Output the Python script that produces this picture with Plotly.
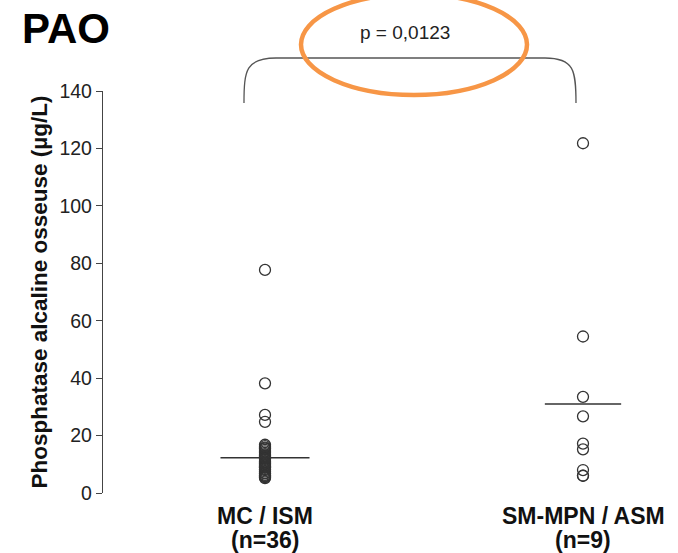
import plotly.graph_objects as go

# ---- data ----
groups = ["MC / ISM", "SM-MPN / ASM"]
group_n = ["(n=36)", "(n=9)"]
group_x = [1, 2]
values_mc_ism = [5.2, 5.5, 5.8, 6.0, 6.3, 6.8, 7.0, 7.5, 8.0, 8.3, 8.8, 9.0,
                 9.2, 9.5, 10.0, 10.3, 11.0, 11.5, 12.0, 12.2, 12.4, 12.8, 13.0,
                 13.5, 14.0, 14.5, 15.0, 15.5, 15.8, 16.3, 16.8, 24.8, 27.2,
                 38.2, 77.7, 10.6]
values_sm_mpn = [121.8, 54.5, 33.5, 26.7, 17.2, 15.2, 8.0, 6.0, 6.0]
medians = [12.3, 31.0]
median_halfwidth = [0.14, 0.12]
p_text = "p = 0,0123"
y_ticks = [0, 20, 40, 60, 80, 100, 120, 140]

W, H = 678, 553
L, R, T, B = 103, 0, 91, 60
pw, ph = W - L - R, H - T - B


def px(x):
    return (x - L) / pw


def py(y):
    return (H - B - y) / ph


# x range so that groups land at pixel 265 and 583
unit = (583 - 265) / 1.0
x0 = 1 - (265 - L) / unit
x1 = 2 + (W - R - 583) / unit

FONT = "Liberation Sans, Arial, sans-serif"

fig = go.Figure()
for gx, vals in zip(group_x, [values_mc_ism, values_sm_mpn]):
    fig.add_trace(go.Scatter(
        x=[gx] * len(vals), y=vals, mode="markers",
        marker=dict(symbol="circle-open", size=11, color="#333333",
                    line=dict(width=1.3, color="#333333")),
        cliponaxis=False, showlegend=False, hoverinfo="y"))

for gx, m, hw in zip(group_x, medians, median_halfwidth):
    fig.add_trace(go.Scatter(
        x=[gx - hw, gx + hw], y=[m, m], mode="lines",
        line=dict(color="#333333", width=1.5),
        showlegend=False, hoverinfo="skip"))

# bracket (pixel path converted to paper coordinates)
pts = [(244, 103), (244, 70), (246, 58), (276, 58), (545, 58),
       (574, 58), (576, 70), (576, 103)]
pp = [(px(a), py(b)) for a, b in pts]
path = ("M {:.4f},{:.4f} C {:.4f},{:.4f} {:.4f},{:.4f} {:.4f},{:.4f} "
        "L {:.4f},{:.4f} C {:.4f},{:.4f} {:.4f},{:.4f} {:.4f},{:.4f}").format(
    *[c for p in pp for c in p])
fig.add_shape(type="path", path=path, xref="paper", yref="paper",
              line=dict(color="#555555", width=1.3))

# orange ellipse
fig.add_shape(type="circle", xref="paper", yref="paper",
              x0=px(301), x1=px(527), y0=py(95), y1=py(-6),
              line=dict(color="#F79646", width=4.5))

fig.add_annotation(text=p_text, xref="paper", yref="paper",
                   x=px(405), y=py(32), showarrow=False,
                   xanchor="center", yanchor="middle",
                   font=dict(size=19, color="#222222"))

fig.add_annotation(text="<b>PAO</b>", xref="paper", yref="paper",
                   x=px(20), y=py(28), xanchor="left", yanchor="middle",
                   showarrow=False,
                   font=dict(size=42, color="#000000"))

# x category labels (two lines, tight spacing)
for gx, g, n in zip(group_x, groups, group_n):
    fig.add_annotation(text="<b>{}</b>".format(g), xref="x", yref="paper",
                       x=gx, y=py(516), showarrow=False, yanchor="middle",
                       font=dict(size=23, color="#111111"))
    fig.add_annotation(text="<b>{}</b>".format(n), xref="x", yref="paper",
                       x=gx, y=py(540), showarrow=False, yanchor="middle",
                       font=dict(size=23, color="#111111"))

fig.update_layout(
    width=W, height=H,
    margin=dict(l=L, r=R, t=T, b=B),
    plot_bgcolor="white", paper_bgcolor="white",
    font=dict(family=FONT, color="#222222"),
    xaxis=dict(range=[x0, x1], showticklabels=False,
               showline=False, showgrid=False, zeroline=False, ticks=""),
    yaxis=dict(range=[0, 140], tickvals=y_ticks, showgrid=False,
               zeroline=False, showline=True, linecolor="#444444",
               linewidth=1.3, ticks="outside", ticklen=6,
               tickcolor="#444444", tickwidth=1.3,
               tickfont=dict(size=19.5, color="#222222"),
               title=dict(text="<b>Phosphatase alcaline osseuse (µg/L)</b>",
                          font=dict(size=22.5, color="#111111"), standoff=5)),
)

fig.write_html("out.html")
